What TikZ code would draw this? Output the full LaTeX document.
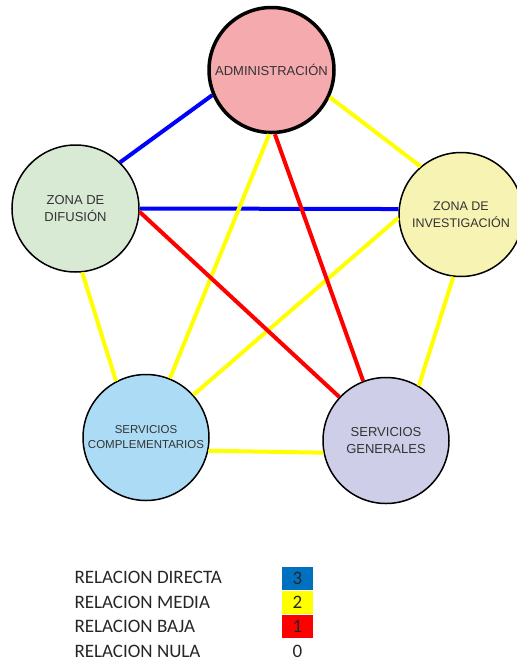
\documentclass[tikz,border=0pt]{standalone}
\usepackage{fontspec}
\setmainfont{Liberation Sans}
\newfontfamily\legfont{Carlito}
\usepackage{tikz}
\usetikzlibrary{positioning}
\definecolor{rosa}{RGB}{245,170,174}
\definecolor{verdeclaro}{RGB}{216,233,212}
\definecolor{amarilloclaro}{RGB}{247,243,178}
\definecolor{celeste}{RGB}{172,220,245}
\definecolor{lila}{RGB}{207,206,232}
\definecolor{azulrel}{RGB}{0,0,255}
\definecolor{amarillorel}{RGB}{255,255,0}
\definecolor{rojorel}{RGB}{255,0,0}
\definecolor{azulley}{RGB}{0,112,192}

\begin{document}
\begin{tikzpicture}[x=1pt, y=-1pt,
    zona/.style={circle, draw=black, line width=1.5pt, minimum size=126pt, inner sep=0pt,
      align=center, text=black!80, font=\fontsize{13}{17}\selectfont},
    rel/.style={line width=4pt},
    leyenda/.style={anchor=base west, text=black!85, font=\legfont\fontsize{19}{21}\selectfont},
    cuadro/.style={minimum width=31pt, minimum height=23.5pt, inner sep=0pt,
      text=black!85, font=\legfont\fontsize{19}{21}\selectfont}]
    \clip (0,0) rectangle (517,662);
    % zonas
    \node[zona, fill=rosa, line width=3.5pt, minimum size=125pt] (adm) at (271.5,70) {ADMINISTRACIÓN};
    \node[zona, fill=verdeclaro, minimum size=127pt] (dif) at (75.5,208.5) {ZONA DE\\DIFUSIÓN};
    \node[zona, fill=amarilloclaro, minimum size=124pt, font=\fontsize{12.5}{17}\selectfont] (inv) at (461,214.5) {ZONA DE\\INVESTIGACIÓN};
    \node[zona, fill=celeste, font=\fontsize{11.5}{15}\selectfont] (com) at (146,437.5) {SERVICIOS\\COMPLEMENTARIOS};
    \node[zona, fill=lila] (gen) at (386,440.5) {SERVICIOS\\GENERALES};
    % relaciones
    \draw[rel, azulrel] (adm.203) -- (dif.46);
    \draw[rel, azulrel] (dif.0) -- (inv.175);
    \draw[rel, amarillorel] (adm.335) -- (inv.130);
    \draw[rel, amarillorel] (adm.268) -- (com.68);
    \draw[rel, amarillorel] (dif.-84) -- (com.118);
    \draw[rel, amarillorel] (inv.183) -- (com.42);
    \draw[rel, amarillorel] (inv.263) -- (gen.59);
    \draw[rel, amarillorel] (com.-12) -- (gen.191);
    \draw[rel, rojorel] (adm.273) -- (gen.111);
    \draw[rel, rojorel] (dif.-3) -- (gen.137);
    % leyenda
    \node[leyenda] (ldir) at (71,583.5) {RELACION DIRECTA};
    \node[leyenda] (lmed) at (71,608) {RELACION MEDIA};
    \node[leyenda] (lbaj) at (71,632.5) {RELACION BAJA};
    \node[leyenda] (lnul) at (71,657) {RELACION NULA};
    \node[cuadro, fill=azulley] (c3) at (297.5,578.5) {3};
    \node[cuadro, fill=amarillorel, below=0pt of c3] (c2) {2};
    \node[cuadro, fill=rojorel, below=0pt of c2] (c1) {1};
    \node[cuadro] (c0) at (297.5,651.5) {0};
  \end{tikzpicture}
\end{document}
